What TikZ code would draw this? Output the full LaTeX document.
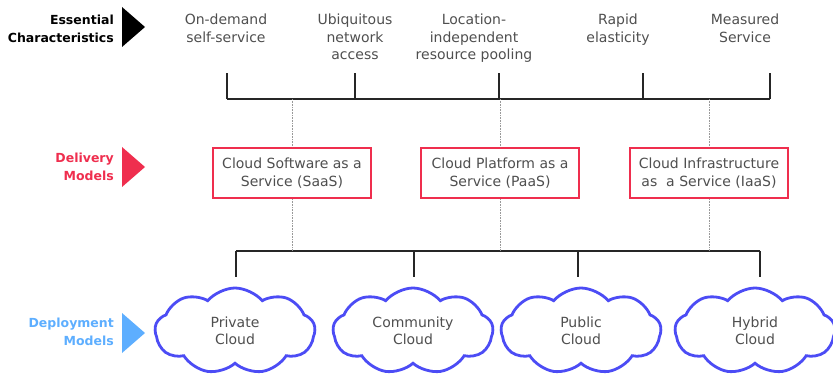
\documentclass[tikz,border=0pt]{standalone}
\usepackage{fontspec}
\setmainfont{DejaVu Sans}
\usepackage{tikz}
\usepackage{xcolor}
\usetikzlibrary{positioning}
\usetikzlibrary{shapes.symbols}
\definecolor{boxred}{HTML}{EF2E4E}
\definecolor{cloudblue}{HTML}{4C4CF5}
\definecolor{tagblue}{HTML}{5DAEFF}
\definecolor{textgray}{HTML}{4F4F4F}
\tikzset{
	feature/.style={
		align=center,
		anchor=north,
		text=textgray,
		font=\fontsize{14}{17.5}\selectfont,
		inner sep=0pt
	},
	modelbox/.style={
		rectangle,
		draw=boxred,
		line width=2pt,
		align=center,
		fill=white,
		text=textgray,
		font=\fontsize{14}{17.5}\selectfont,
		minimum width=158pt,
		minimum height=50pt,
		inner sep=0pt
	},
	cloudnode/.style={
		cloud,
		cloud puffs=9,
		cloud puff arc=100,
		aspect=1.8,
		draw=cloudblue,
		line width=2.8pt,
		fill=white,
		align=center,
		text=textgray,
		font=\fontsize{14}{17}\selectfont,
		minimum width=160pt,
		minimum height=86pt,
		inner sep=0pt
	},
	tagline/.style={
		align=right,
		anchor=east,
		font=\bfseries\fontsize{12.5}{17.5}\selectfont,
		inner sep=0pt
	},
	bar/.style={
		line width=1.4pt,
		draw=black!85
	},
	guide/.style={
		densely dotted,
		line width=0.6pt,
		draw=black!40
	}
}
\begin{document}
\begin{tikzpicture}[x=1pt, y=-1pt]
			\useasboundingbox (0,0) rectangle (833,377);
			
			\node[tagline] (Essential) at (114,29) {Essential\\Characteristics};
			\node[tagline, text=boxred] (Delivery) at (114,167) {Delivery\\Models};
			\node[tagline, text=tagblue] (Deployment) at (114,332) {Deployment\\Models};
			\foreach \ty/\tc in {27/black, 167/boxred, 333/tagblue}
				\fill[\tc] (122,\ty-20) -- (145,\ty) -- (122,\ty+20) -- cycle;
			
			\node[feature] (OnDemand) at (226,14) {On-demand\\self-service};
			\node[feature] (Ubiquitous) at (355,14) {Ubiquitous\\network\\access};
			\node[feature] (Pooling) at (474,14) {Location-\\independent\\resource pooling};
			\node[feature] (Elasticity) at (618,14) {Rapid\\elasticity};
			\node[feature] (Measured) at (745,14) {Measured\\Service};
			
			\coordinate (TopLeft) at (227,99);
			\coordinate (TopRight) at (770,99);
			\draw[bar] (TopLeft) -- (TopRight);
			\foreach \tx in {227,355,499,643,770}
				\draw[bar] (\tx,99) -- (\tx,73);
			
			\node[modelbox] (SaaS) at (292,173) {Cloud Software as a\\Service (SaaS)};
			\node[modelbox, right=48pt of SaaS] (PaaS) {Cloud Platform as a\\Service (PaaS)};
			\node[modelbox, right=49pt of PaaS] (IaaS) {Cloud Infrastructure\\as~ a Service (IaaS)};
			
			\coordinate (BotLeft) at (236,251);
			\coordinate (BotRight) at (760,251);
			\draw[bar] (BotLeft) -- (BotRight);
			
			\foreach \mdl in {SaaS, PaaS, IaaS} {
				\draw[guide] (\mdl.north |- TopLeft) -- (\mdl.north);
				\draw[guide] (\mdl.south) -- (\mdl.south |- BotLeft);
			}
			
			\node[cloudnode] (Private) at (235,331) {Private\\Cloud};
			\node[cloudnode] (Community) at (413,331) {Community\\Cloud};
			\node[cloudnode] (Public) at (581,331) {Public\\Cloud};
			\node[cloudnode] (Hybrid) at (755,331) {Hybrid\\Cloud};
			
			\foreach \tx in {236,414,578,760}
				\draw[bar] (\tx,251) -- (\tx,277);
		\end{tikzpicture}
\end{document}
